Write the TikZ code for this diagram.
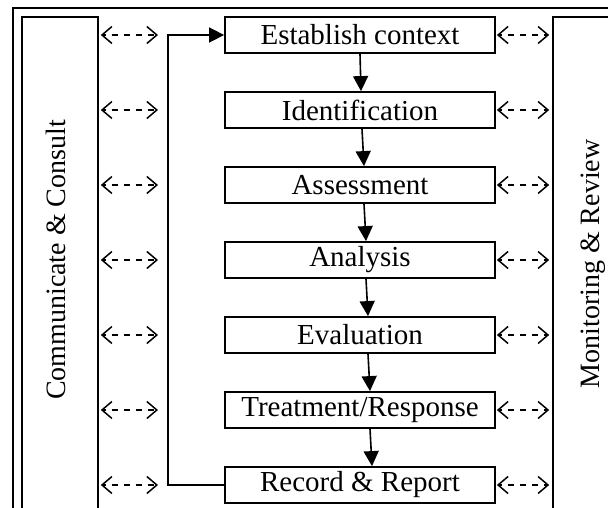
\documentclass[tikz,border=0pt]{standalone}
\usepackage{fontspec}
\setmainfont{Liberation Serif}
\usetikzlibrary{arrows.meta}
\begin{document}
\begin{tikzpicture}[x=1pt,y=-1pt,
  frame/.style={draw=black,line width=1.8pt},
  stepbox/.style={draw=black,line width=1.8pt,minimum width=270pt,minimum height=36pt,
    inner sep=0pt,font=\fontsize{29}{31}\selectfont},
  sidebox/.style={draw=black,line width=1.6pt,inner sep=0pt},
  sidetext/.style={rotate=90,font=\fontsize{28}{30}\selectfont},
  flow/.style={line width=1.6pt,-{Triangle[length=15pt,width=15pt]}},
  link/.style={line width=1.5pt,dash pattern=on 6pt off 6pt,dash phase=3pt,
    {Straight Barb[length=10pt,width=17pt,line width=1.5pt]}-{Straight Barb[length=10pt,width=17pt,line width=1.5pt]}}]
\useasboundingbox (0,0) rectangle (608,508);
\clip (0,0) rectangle (608,508);
\fill[white] (0,0) rectangle (608,508);

% outer frame
\draw[frame] (13,8) rectangle (650,530);

% side columns
\node[sidebox,minimum width=76pt,minimum height=500pt] (cc) at (60,267) {};
\node[sidetext] (cct) at (56,260) {Communicate \& Consult};
\node[sidebox,minimum width=90pt,minimum height=500pt] (mr) at (598,267) {};
\node[sidetext] (mrt) at (593,264) {Monitoring \& Review};

% process steps
\node[stepbox] (s1) at (360,35) {Establish context};
\node[stepbox] (s2) at (360,110) {Identification};
\node[stepbox] (s3) at (360,185) {Assessment};
\node[stepbox] (s4) at (360,260) {Analysis};
\node[stepbox] (s5) at (360,335) {Evaluation};
\node[stepbox] (s6) at (360,410) {Treatment/Response};
\node[stepbox] (s7) at (360,485) {Record \& Report};

% downward flow between steps
\draw[flow] ([xshift=0pt]s1.south) -- ([xshift=1pt]s2.north);
\draw[flow] ([xshift=2pt]s2.south) -- ([xshift=4pt]s3.north);
\draw[flow] ([xshift=4pt]s3.south) -- ([xshift=6pt]s4.north);
\draw[flow] ([xshift=6pt]s4.south) -- ([xshift=8pt]s5.north);
\draw[flow] ([xshift=8pt]s5.south) -- ([xshift=10pt]s6.north);
\draw[flow] ([xshift=10pt]s6.south) -- ([xshift=12pt]s7.north);

% feedback loop
\coordinate (fb) at (168,260);
\draw[flow] (s7.west) -- (fb |- s7.west) -- (fb |- s1.west) -- (s1.west);

% two-way links to the side columns
\foreach \s in {s1,s2,s3,s4,s5,s6,s7}{
  \draw[link,shorten <=2pt,shorten >=10pt] (cc.east |- \s.west) -- (fb |- \s.west);
  \draw[link,shorten <=1pt,shorten >=3pt] (\s.east) -- (mr.west |- \s.east);
}
\end{tikzpicture}
\end{document}
